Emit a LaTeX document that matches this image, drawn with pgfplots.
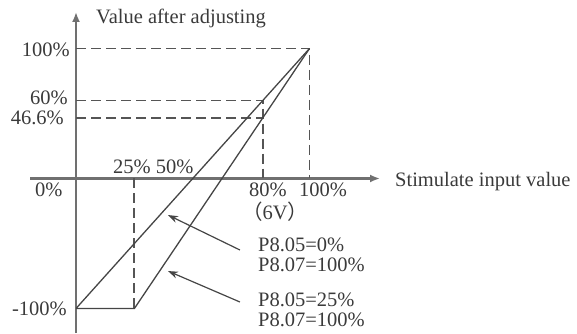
\documentclass[border=0pt]{standalone}
\usepackage{pgfplots}
\pgfplotsset{compat=1.18}
\usepackage{fontspec}
\setmainfont{Liberation Serif}
\newfontfamily\cjk{Noto Sans CJK SC}
\usetikzlibrary{arrows.meta}
\definecolor{txt}{HTML}{3A3A3A}
\definecolor{axc}{HTML}{707070}
\definecolor{lnc}{HTML}{454545}
\definecolor{dsc}{HTML}{555555}
\tikzset{lab/.style={font=\fontsize{20.5}{24}\selectfont, text=txt, inner sep=0pt}}
\begin{document}
\begin{tikzpicture}
\begin{axis}[
  width=577pt, height=333pt, scale only axis, hide axis, clip=false,
  xmin=-32.55, xmax=214.56, ymin=-118.85, ymax=137.3,
]
\coordinate (SW) at (rel axis cs:0,0);
\coordinate (NE) at (rel axis cs:1,1);
% axes
\draw[axc, line width=2.4pt, -{Latex[length=10pt,width=8pt]}] (axis cs:-19.7,0) -- (axis cs:130.2,0);
\draw[axc, line width=2.4pt, -{Latex[length=10pt,width=8pt]}] (axis cs:0,-118.85) -- (axis cs:0,128.1);
% dashed guides
\addplot[dsc, line width=1.8pt, dash pattern=on 10pt off 5pt] coordinates {(0,100) (100,100) (100,0)};
\addplot[dsc, line width=1.8pt, dash pattern=on 10pt off 5pt] coordinates {(0,60) (80,60) (80,0)};
\addplot[dsc, line width=1.8pt, dash pattern=on 10pt off 5pt] coordinates {(0,46.6) (80,46.6)};
\addplot[dsc, line width=1.8pt, dash pattern=on 10pt off 5pt] coordinates {(25,0) (25,-100)};
% curves
\addplot[lnc, line width=1.3pt] coordinates {(0,-100) (100,100)};
\addplot[lnc, line width=1.3pt] coordinates {(0,-100) (25,-100) (100,100)};
% annotation arrows
\draw[lnc, line width=1.2pt, -{Stealth[length=10pt,width=7pt]}] (axis cs:70.2,-55) -- (axis cs:39.4,-28.1);
\draw[lnc, line width=1.2pt, -{Stealth[length=10pt,width=7pt]}] (axis cs:70.2,-95) -- (axis cs:39.4,-71.2);
% labels
\node[lab, anchor=base west] at (axis cs:8.57,119.6) {Value after adjusting};
\node[lab, anchor=base east] at (axis cs:-2.57,94.2) {100\%};
\node[lab, anchor=base east] at (axis cs:-3.43,57.3) {60\%};
\node[lab, anchor=base east] at (axis cs:-5.14,41.2) {46.6\%};
\node[lab, anchor=base east] at (axis cs:-3.85,-105) {-100\%};
\node[lab, anchor=base west] at (axis cs:-17.56,-14.2) {0\%};
\node[lab, anchor=base west] at (axis cs:15.85,4.2) {25\% 50\%};
\node[lab, anchor=base west] at (axis cs:74.1,-14.2) {80\%};
\node[lab, anchor=base west] at (axis cs:95.5,-14.2) {100\%};
\node[lab, anchor=base west] at (axis cs:71.1,-31.9) {{\cjk （}6V{\cjk ）}};
\node[lab, anchor=base west] at (axis cs:136.6,-6.5) {Stimulate input value};
\node[lab, anchor=base west] at (axis cs:77.9,-56.5) {P8.05=0\%};
\node[lab, anchor=base west] at (axis cs:77.9,-71.9) {P8.07=100\%};
\node[lab, anchor=base west] at (axis cs:77.9,-98.8) {P8.05=25\%};
\node[lab, anchor=base west] at (axis cs:77.9,-114.2) {P8.07=100\%};
\end{axis}
\pgfresetboundingbox
\path[use as bounding box] (SW) rectangle (NE);
\end{tikzpicture}
\end{document}
